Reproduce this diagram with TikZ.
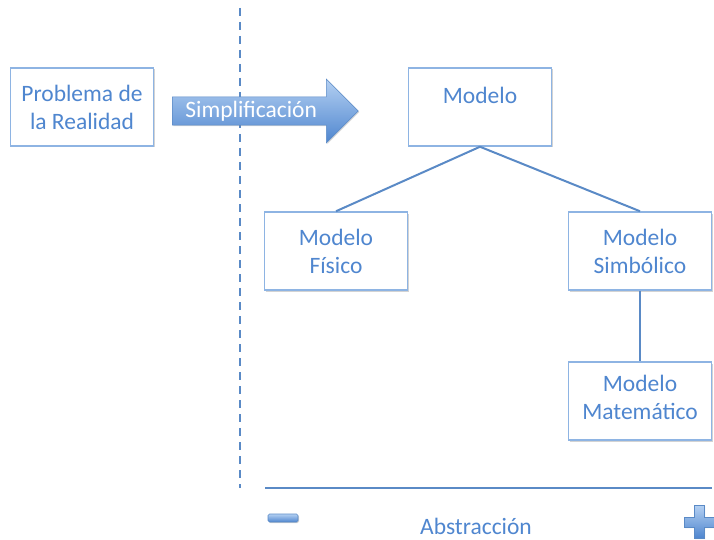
\documentclass[tikz,border=0pt]{standalone}
\usepackage{fontspec}
\setmainfont{Carlito}
\usetikzlibrary{shapes.arrows,shadows}
\definecolor{boxline}{HTML}{8EB4E3}
\definecolor{boxtext}{HTML}{4F86CF}
\definecolor{linkline}{HTML}{5A8AC6}
\definecolor{arrowtop}{HTML}{B4D0F2}
\definecolor{arrowbot}{HTML}{4F86CF}

\begin{document}
\begin{tikzpicture}[x=1pt,y=-1pt,
    every node/.style={font=\fontsize{23.5}{28}\selectfont,text=boxtext},
    modbox/.style={draw=boxline,line width=1.5pt,fill=white,minimum width=143pt,minimum height=78pt,align=center,inner sep=2pt,
        drop shadow={shadow xshift=1.5pt,shadow yshift=-1.5pt,opacity=0.35,fill=gray}},
    link/.style={draw=linkline,line width=2pt},
    sign/.style={top color=arrowtop,bottom color=arrowbot,draw=linkline,line width=0.6pt,
        drop shadow={shadow xshift=1pt,shadow yshift=-1pt,opacity=0.35,fill=gray}}]
\useasboundingbox (0,0) rectangle (714,540);
    \coordinate (dtop) at (240,8);
    \coordinate (dbot) at (240,488);
    \draw[linkline,line width=2pt,dash pattern=on 8pt off 6pt] (dtop) -- (dbot);
    \node[modbox] (realidad) at (82,107) {Problema de\\la Realidad};
    \node[single arrow,single arrow head extend=13pt,minimum width=64pt,minimum height=186pt,
        inner sep=0pt,top color=arrowtop,bottom color=arrowbot,draw=linkline,line width=0.6pt,
        text=white,anchor=west,
        drop shadow={shadow xshift=1pt,shadow yshift=-1pt,opacity=0.3,fill=gray}]
        (simpl) at (172,111) {Simplificación\hspace*{14pt}};
    \node[modbox,text height=16pt,text depth=22pt] (modelo) at (480,107) {Modelo};
    \node[modbox] (fisico) at (336,251) {Modelo\\Físico};
    \node[modbox] (simbolico) at (640,251) {Modelo\\Simbólico};
    \node[modbox] (matematico) at (640,401) {Modelo\\Matemático\\[-20pt]};
    \draw[link] (modelo.south) -- (fisico.north);
    \draw[link] (modelo.south) -- (simbolico.north);
    \draw[link] (simbolico.south) -- (matematico.north);
    \coordinate (amin) at (265,488);
    \coordinate (amax) at (712,488);
    \draw[link] (amin) -- (amax);
    \node (abstr) at (476,526) {Abstracción};
    \path[sign,rounded corners=1.5pt] (268,514) rectangle (298,522);
    \path[sign] (694,505) -- (704,505) -- (704,517) -- (716,517) -- (716,527) -- (704,527)
        -- (704,538) -- (694,538) -- (694,527) -- (684,527) -- (684,517) -- (694,517) -- cycle;
\end{tikzpicture}
\end{document}
